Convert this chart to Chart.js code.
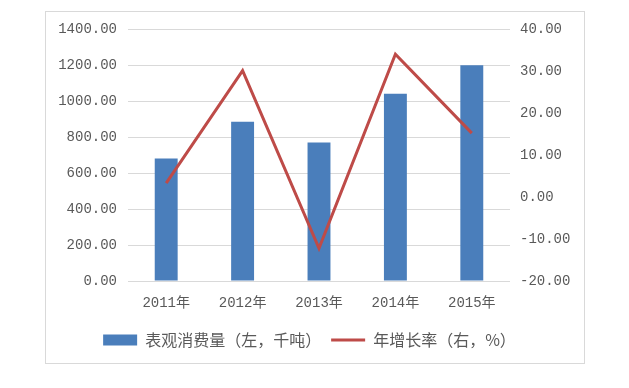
<!DOCTYPE html>
<html>
<head>
<meta charset="utf-8">
<script src="https://cdn.jsdelivr.net/npm/chart.js@4/dist/chart.umd.min.js"></script>
<style>
html,body{margin:0;padding:0;background:#fff;}
#wrap{width:629px;height:388px;}
</style>
</head>
<body>
<div id="wrap"><canvas id="c" width="629" height="388"></canvas></div>
<script>
const categories = ['2011年', '2012年', '2013年', '2014年', '2015年'];
const consumption = [680, 885, 770, 1040, 1198];
const growthRate = [3.3, 30.1, -12.2, 34.0, 15.2];
const leftTicks = [0, 200, 400, 600, 800, 1000, 1200, 1400];
const rightTicks = [-20, -10, 0, 10, 20, 30, 40];
const seriesNames = ['表观消费量（左，千吨）', '年增长率（右，%）'];

const BLUE = '#4a7ebb';
const RED = '#be4b48';
const GRID = '#d9d9d9';
const TXT = '#595959';
const tickFont = {family: "'Liberation Mono', 'Noto Sans CJK SC', monospace", size: 14};

const frame = {
  id: 'frame',
  beforeDraw(chart) {
    const ctx = chart.ctx;
    ctx.save();
    ctx.fillStyle = '#fff';
    ctx.fillRect(0, 0, chart.width, chart.height);
    ctx.strokeStyle = GRID;
    ctx.lineWidth = 1;
    ctx.strokeRect(45.5, 11.5, 539, 352);
    ctx.restore();
  }
};

new Chart(document.getElementById('c'), {
  type: 'bar',
  data: {
    labels: categories,
    datasets: [
      {
        type: 'line',
        label: seriesNames[1],
        data: growthRate,
        yAxisID: 'y1',
        borderColor: RED,
        backgroundColor: RED,
        borderWidth: 3,
        pointRadius: 0,
        tension: 0,
        order: 0
      },
      {
        type: 'bar',
        label: seriesNames[0],
        data: consumption,
        yAxisID: 'y',
        backgroundColor: BLUE,
        borderWidth: 0,
        barPercentage: 0.3,
        categoryPercentage: 1,
        order: 1
      }
    ]
  },
  options: {
    responsive: false,
    animation: false,
    layout: {padding: {left: 40, right: 50, top: 29, bottom: 30}},
    plugins: {
      tooltip: {enabled: false},
      legend: {
        position: 'bottom',
        reverse: true,
        labels: {
          usePointStyle: true,
          pointStyleWidth: 34,
          boxHeight: 11,
          padding: 10,
          color: TXT,
          font: {family: "'Noto Sans CJK SC', sans-serif", size: 16},
          generateLabels(chart) {
            return chart.data.datasets.map((ds, i) => ({
              text: ds.label,
              datasetIndex: i,
              fillStyle: ds.type === 'line' ? RED : BLUE,
              strokeStyle: ds.type === 'line' ? RED : BLUE,
              lineWidth: ds.type === 'line' ? 3 : 0,
              pointStyle: ds.type === 'line' ? 'line' : 'rect',
              fontColor: TXT,
              hidden: false
            }));
          }
        }
      }
    },
    scales: {
      x: {
        grid: {display: false, drawTicks: false},
        border: {display: false},
        ticks: {color: TXT, font: tickFont, padding: 14, maxRotation: 0},
        afterFit(s) { s.height = 41; }
      },
      y: {
        position: 'left',
        min: 0, max: 1400,
        grid: {color: GRID, lineWidth: 1, drawTicks: false},
        border: {display: false},
        afterBuildTicks(s) { s.ticks = leftTicks.map(v => ({value: v})); },
        ticks: {color: TXT, font: tickFont, padding: 11, callback: v => Number(v).toFixed(2)},
        afterFit(s) { s.width = 88; }
      },
      y1: {
        position: 'right',
        min: -20, max: 40,
        grid: {display: false, drawTicks: false},
        border: {display: false},
        afterBuildTicks(s) { s.ticks = rightTicks.map(v => ({value: v})); },
        ticks: {color: TXT, font: tickFont, padding: 10, callback: v => Number(v).toFixed(2)},
        afterFit(s) { s.width = 69; }
      }
    }
  },
  plugins: [frame]
});
</script>
</body>
</html>
